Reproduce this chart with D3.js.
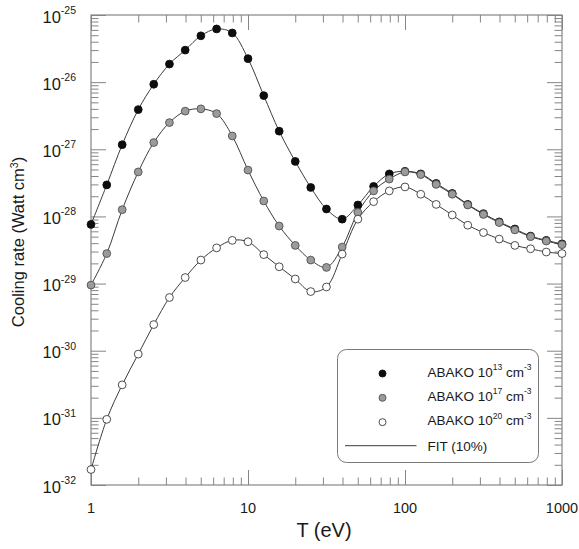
<!DOCTYPE html>
<html><head><meta charset="utf-8">
<script src="https://cdn.jsdelivr.net/npm/d3@7"></script>
<style>body{margin:0;background:#fff}svg{display:block}text{font-family:Arial,"Liberation Sans",sans-serif;fill:#1a1a1a}</style>
</head><body><svg id="c" width="579" height="549"></svg>
<script>
const temps = [1, 1.26, 1.58, 2, 2.51, 3.16, 3.98, 5.01, 6.31, 7.94, 10, 12.6, 15.8, 20, 25.1, 31.6, 39.8, 50.1, 63.1, 79.4, 100, 126, 158, 200, 251, 316, 398, 501, 631, 794, 1000];
const abako13 = [7.6e-29, 2.95e-28, 1.17e-27, 3.9e-27, 9.3e-27, 1.86e-26, 3.0e-26, 4.9e-26, 6.2e-26, 5.4e-26, 2.24e-26, 6.3e-27, 1.86e-27, 6.6e-28, 2.7e-28, 1.29e-28, 9.1e-29, 1.48e-28, 2.8e-28, 4.3e-28, 4.7e-28, 4.3e-28, 3.1e-28, 2.2e-28, 1.51e-28, 1.1e-28, 8.3e-29, 6.5e-29, 5.1e-29, 4.4e-29, 3.9e-29];
const abako17 = [9.5e-30, 2.8e-29, 1.26e-28, 4.6e-28, 1.26e-27, 2.5e-27, 3.7e-27, 4.0e-27, 3.4e-27, 1.58e-27, 4.9e-28, 1.7e-28, 7.2e-29, 3.7e-29, 2.24e-29, 1.74e-29, 3.5e-29, 1.15e-28, 2.4e-28, 3.6e-28, 4.6e-28, 4.2e-28, 3.0e-28, 2.14e-28, 1.48e-28, 1.07e-28, 8.1e-29, 6.3e-29, 5.0e-29, 4.3e-29, 3.8e-29];
const abako20 = [1.7e-32, 9.5e-32, 3.1e-31, 8.9e-31, 2.45e-30, 6.2e-30, 1.23e-29, 2.24e-29, 3.4e-29, 4.4e-29, 4.2e-29, 2.7e-29, 1.78e-29, 1.17e-29, 7.6e-30, 8.9e-30, 2.75e-29, 9.1e-29, 1.66e-28, 2.4e-28, 2.75e-28, 2.14e-28, 1.51e-28, 1.05e-28, 7.4e-29, 5.75e-29, 4.6e-29, 3.7e-29, 3.3e-29, 2.95e-29, 2.8e-29];
const xTickLabels = ["1", "10", "100", "1000"];
const yTickExps = ["-32", "-31", "-30", "-29", "-28", "-27", "-26", "-25"];
const legendDens = ["13", "17", "20"];

const svg = d3.select("#c");
const L = 91, R = 562, T = 15, B = 485;
const x = d3.scaleLog().domain([1, 1000]).range([L, R]);
const y = d3.scaleLog().domain([1e-32, 1e-25]).range([B, T]);
const axisCol = "#858585";

const xMajor = xTickLabels.map(Number);
const xMinor = x.ticks().filter(v => !xMajor.includes(v));
const yMajor = yTickExps.map(e => Math.pow(10, +e));
const yMinor = y.ticks(60).filter(v => !yMajor.some(m => Math.abs(m - v) / m < 1e-6));

function styleAxis(g) {
  g.select(".domain").remove();
  g.selectAll(".tick line").attr("stroke", axisCol).attr("stroke-width", 1);
  g.selectAll(".tick text").remove();
}
[[d3.axisBottom, B], [d3.axisTop, T]].forEach(([fn, pos]) => {
  svg.append("g").attr("transform", `translate(0,${pos})`)
    .call(fn(x).tickValues(xMajor).tickSize(-15)).call(styleAxis);
  svg.append("g").attr("transform", `translate(0,${pos})`)
    .call(fn(x).tickValues(xMinor).tickSize(-7.5)).call(styleAxis);
});
[[d3.axisLeft, L], [d3.axisRight, R]].forEach(([fn, pos]) => {
  svg.append("g").attr("transform", `translate(${pos},0)`)
    .call(fn(y).tickValues(yMajor).tickSize(-15)).call(styleAxis);
  svg.append("g").attr("transform", `translate(${pos},0)`)
    .call(fn(y).tickValues(yMinor).tickSize(-7.5)).call(styleAxis);
});
svg.append("rect").attr("x", L).attr("y", T).attr("width", R - L).attr("height", B - T)
  .attr("fill", "none").attr("stroke", axisCol).attr("stroke-width", 1.2);

svg.selectAll(".xl").data(xTickLabels).enter().append("text")
  .attr("x", d => x(+d)).attr("y", B + 28).attr("text-anchor", "middle")
  .attr("font-size", 14.5).text(d => d);
yTickExps.forEach(e => {
  const t = svg.append("text").attr("x", 76).attr("y", y(Math.pow(10, +e)) + 7.5)
    .attr("text-anchor", "end").attr("font-size", 16.5);
  t.append("tspan").text("10");
  t.append("tspan").attr("dy", -8.5).attr("font-size", 10.5).text(e);
});
svg.append("text").attr("x", 324).attr("y", 537).attr("text-anchor", "middle")
  .attr("font-size", 20).text("T (eV)");
const yt = svg.append("text").attr("transform", "translate(24,242) rotate(-90)")
  .attr("text-anchor", "middle").attr("font-size", 16.5);
yt.append("tspan").text("Cooling rate (Watt cm");
yt.append("tspan").attr("dy", -6).attr("font-size", 10.5).text("3");
yt.append("tspan").attr("dy", 6).text(")");

const series = [
  { vals: abako13, fill: "#0d0d0d", stroke: "#0d0d0d" },
  { vals: abako17, fill: "#9b9b9b", stroke: "#505050" },
  { vals: abako20, fill: "#ffffff", stroke: "#3a3a3a" }
];
const line = d3.line().x(d => x(d[0])).y(d => y(d[1])).curve(d3.curveCatmullRom.alpha(0.5));
series.forEach(s => {
  svg.append("path").datum(temps.map((t, i) => [t, s.vals[i]]))
    .attr("d", line).attr("fill", "none").attr("stroke", "#3c3c3c").attr("stroke-width", 1);
});
series.forEach(s => {
  svg.append("g").selectAll("circle").data(temps.map((t, i) => [t, s.vals[i]])).enter()
    .append("circle").attr("cx", d => x(d[0])).attr("cy", d => y(d[1])).attr("r", 3.9)
    .attr("fill", s.fill).attr("stroke", s.stroke).attr("stroke-width", 0.9);
});

const lg = svg.append("g");
lg.append("rect").attr("x", 337.5).attr("y", 349.5).attr("width", 201).attr("height", 113)
  .attr("rx", 9).attr("fill", "#fff").attr("stroke", "#7a7a7a").attr("stroke-width", 1);
const rowY = [373.5, 397.8, 422.2];
series.forEach((s, i) => {
  lg.append("circle").attr("cx", 382.5).attr("cy", rowY[i]).attr("r", 3.5)
    .attr("fill", s.fill).attr("stroke", s.stroke).attr("stroke-width", 0.9);
  const t = lg.append("text").attr("x", 427.5).attr("y", rowY[i] + 3).attr("font-size", 13.5);
  t.append("tspan").text("ABAKO 10");
  t.append("tspan").attr("dy", -6.5).attr("font-size", 8.5).text(legendDens[i]);
  t.append("tspan").attr("dy", 6.5).text(" cm");
  t.append("tspan").attr("dy", -6.5).attr("font-size", 8.5).text("-3");
});
lg.append("line").attr("x1", 345).attr("x2", 416.5).attr("y1", 445.7).attr("y2", 445.7)
  .attr("stroke", "#3c3c3c").attr("stroke-width", 1);
lg.append("text").attr("x", 427.5).attr("y", 450.5).attr("font-size", 13.5).text("FIT (10%)");
</script></body></html>
